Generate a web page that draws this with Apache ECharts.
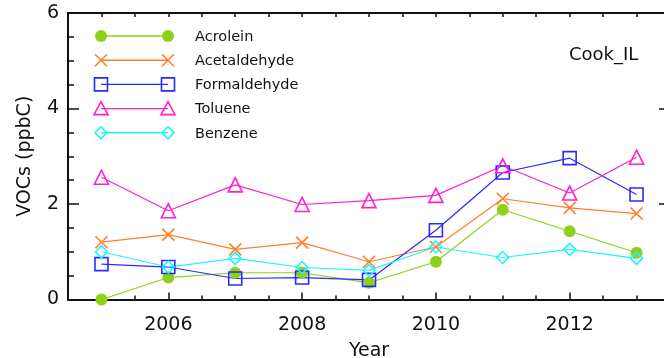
<!DOCTYPE html>
<html>
<head>
<meta charset="utf-8">
<script src="https://cdn.jsdelivr.net/npm/echarts@6/dist/echarts.min.js"></script>
<style>html,body{margin:0;padding:0;background:#fff;}#c{width:664px;height:358px;}</style>
</head>
<body>
<div id="c"></div>
<script>
var years = [2005, 2006, 2007, 2008, 2009, 2010, 2011, 2012, 2013];
var acrolein = [0.00, 0.46, 0.56, 0.56, 0.35, 0.79, 1.88, 1.43, 0.98];
var acetaldehyde = [1.20, 1.36, 1.05, 1.19, 0.79, 1.10, 2.11, 1.92, 1.80];
var formaldehyde = [0.74, 0.68, 0.44, 0.46, 0.41, 1.45, 2.66, 2.96, 2.20];
var toluene = [2.56, 1.86, 2.40, 1.99, 2.07, 2.18, 2.80, 2.23, 2.98];
var benzene = [1.00, 0.68, 0.86, 0.67, 0.61, 1.10, 0.88, 1.05, 0.86];
var seriesNames = ['Acrolein', 'Acetaldehyde', 'Formaldehyde', 'Toluene', 'Benzene'];
var xLabelYears = [2006, 2008, 2010, 2012];
var yTickLabels = [0, 2, 4, 6];
var siteLabel = 'Cook_IL';

var FONT = 'DejaVu Sans';
var colors = ['#8fd11a', '#ff7f2a', '#2a2aff', '#ff1fd0', '#1ff5ff'];
var values = [acrolein, acetaldehyde, formaldehyde, toluene, benzene];
var symbols = ['circle', 'path://M0,0L10,10M10,0L0,10', 'rect', 'triangle', 'diamond'];
var symSizes = [12, 12, 13, 14, 12];

var halfYears = [];
for (var i = 0; i < 19; i++) halfYears.push(2004.5 + i * 0.5);

var series = values.map(function (arr, k) {
  return {
    name: seriesNames[k],
    type: 'line',
    data: years.map(function (y, j) { return [y, arr[j]]; }),
    symbol: symbols[k],
    symbolSize: symSizes[k],
    showAllSymbol: true,
    lineStyle: { color: colors[k], width: 1.2 },
    itemStyle: k === 0 ? { color: colors[k] } : { color: 'transparent', borderColor: colors[k], borderWidth: 1.6 },
    emphasis: { disabled: true },
    animation: false,
    z: 3
  };
});

// legend drawn with graphic elements
var graphics = [];
var legX1 = 101, legX2 = 168, legTextX = 195, legY0 = 36, legDy = 24.2;
function symGraphic(k, cx, cy) {
  var c = colors[k];
  if (k === 0) return { type: 'circle', shape: { cx: cx, cy: cy, r: 6 }, style: { fill: c } };
  if (k === 1) return { type: 'polyline', shape: { points: [[cx - 6, cy - 6], [cx + 6, cy + 6]] }, style: { stroke: c, lineWidth: 1.6, fill: null } };
  if (k === 2) return { type: 'rect', shape: { x: cx - 6.5, y: cy - 6.5, width: 13, height: 13 }, style: { stroke: c, lineWidth: 1.6, fill: null } };
  if (k === 3) return { type: 'polygon', shape: { points: [[cx, cy - 7], [cx + 7, cy + 6], [cx - 7, cy + 6]] }, style: { stroke: c, lineWidth: 1.6, fill: null } };
  return { type: 'polygon', shape: { points: [[cx, cy - 6], [cx + 6, cy], [cx, cy + 6], [cx - 6, cy]] }, style: { stroke: c, lineWidth: 1.6, fill: null } };
}
seriesNames.forEach(function (nm, k) {
  var y = legY0 + k * legDy;
  graphics.push({ type: 'line', shape: { x1: legX1, y1: y, x2: legX2, y2: y }, style: { stroke: colors[k], lineWidth: 1.4 } });
  [legX1, legX2].forEach(function (x) {
    graphics.push(symGraphic(k, x, y));
    if (k === 1) graphics.push({ type: 'polyline', shape: { points: [[x + 6, y - 6], [x - 6, y + 6]] }, style: { stroke: colors[k], lineWidth: 1.6, fill: null } });
  });
  graphics.push({ type: 'text', x: legTextX, y: y + 1, style: { text: nm, font: '14.5px "' + FONT + '"', fill: '#111', textVerticalAlign: 'middle' } });
});
graphics.push({ type: 'text', x: 569, y: 55, style: { text: siteLabel, font: '18px "' + FONT + '"', fill: '#111', textVerticalAlign: 'middle' } });

var axisLine = { show: true, lineStyle: { color: '#111', width: 2 } };
var grid = { left: 68, top: 13, width: 602, bottom: 58.5, show: false, containLabel: false, outerBoundsMode: 'none' };

var option = {
  animation: false,
  backgroundColor: '#fff',
  grid: grid,
  xAxis: [
    {
      type: 'value', min: 2004.5, max: 2013.5, position: 'bottom',
      axisLine: axisLine,
      axisTick: { show: true, inside: true, length: 7, customValues: xLabelYears, lineStyle: { color: '#111', width: 1.5 } },
      axisLabel: { customValues: xLabelYears, margin: 16, fontSize: 19, fontFamily: FONT, color: '#111', formatter: function (v) { return String(v); } },
      splitLine: { show: false },
      name: 'Year', nameLocation: 'middle', nameGap: 42,
      nameTextStyle: { fontSize: 19, fontFamily: FONT, color: '#111' }
    },
    {
      type: 'value', min: 2004.5, max: 2013.5, position: 'bottom',
      axisLine: { show: false },
      axisTick: { show: true, inside: true, length: 4, customValues: halfYears, lineStyle: { color: '#111', width: 1.5 } },
      axisLabel: { show: false },
      splitLine: { show: false }
    },
    {
      type: 'value', min: 2004.5, max: 2013.5, position: 'top',
      axisLine: axisLine,
      axisTick: { show: true, inside: true, length: 4, customValues: halfYears, lineStyle: { color: '#111', width: 1.5 } },
      axisLabel: { show: false },
      splitLine: { show: false }
    }
  ],
  yAxis: [
    {
      type: 'value', min: 0, max: 6, interval: 2, position: 'left',
      axisLine: axisLine,
      axisTick: { show: true, inside: true, length: 11, lineStyle: { color: '#111', width: 1.5 } },
      minorTick: { show: true, splitNumber: 4, length: 6, lineStyle: { color: '#111', width: 1.5 } },
      axisLabel: { margin: 9, fontSize: 19, fontFamily: FONT, color: '#111', customValues: yTickLabels },
      splitLine: { show: false },
      name: 'VOCs (ppbC)', nameLocation: 'middle', nameGap: 33,
      nameTextStyle: { fontSize: 19, fontFamily: FONT, color: '#111' }
    },
    {
      type: 'value', min: 0, max: 6, interval: 2, position: 'right',
      axisLine: axisLine,
      axisTick: { show: true, inside: true, length: 11, lineStyle: { color: '#111', width: 1.5 } },
      minorTick: { show: true, splitNumber: 4, length: 6, lineStyle: { color: '#111', width: 1.5 } },
      axisLabel: { show: false },
      splitLine: { show: false }
    }
  ],
  series: series,
  graphic: graphics
};

var chart = echarts.init(document.getElementById('c'), null, { renderer: 'canvas' });
chart.setOption(option);
</script>
</body>
</html>
